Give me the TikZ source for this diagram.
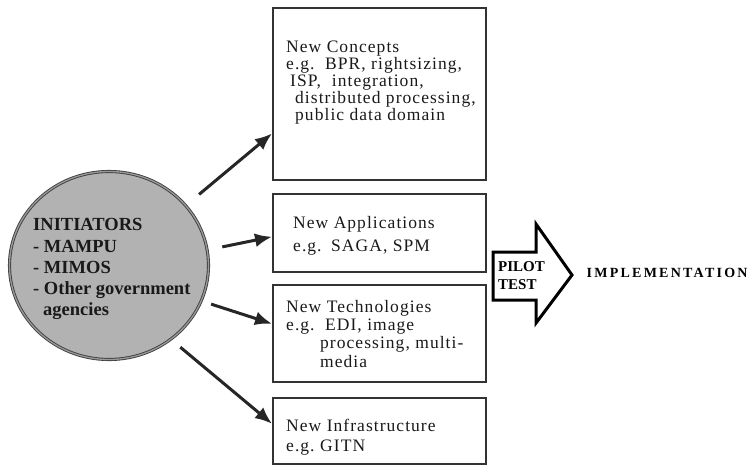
\documentclass[tikz,border=0pt]{standalone}
\usepackage{fontspec}
\setmainfont{Liberation Serif}
\newfontfamily\boxfont[LetterSpace=6]{Liberation Serif}
\newfontfamily\implfont[LetterSpace=16]{Liberation Serif}
\usetikzlibrary{shapes.geometric,arrows.meta,calc}
\begin{document}
\begin{tikzpicture}[x=1pt,y=-1pt,
 box/.style={draw=black!80,line width=1.5pt,inner sep=0,anchor=north west,minimum width=213pt},
 txt/.style={inner sep=0,anchor=base west,text=black!90,font=\boxfont\fontsize{17.5}{19}\selectfont},
 ctxt/.style={inner sep=0,anchor=base west,text=black!90,font=\bfseries\fontsize{18.5}{20}\selectfont},
 ptxt/.style={inner sep=0,anchor=base west,text=black,font=\bfseries\fontsize{15}{17}\selectfont},
 conn/.style={draw=black!85,line width=3pt,-{Latex[length=17pt,width=14pt]}},
]
\useasboundingbox (0,0) rectangle (754,466);

% initiators ellipse
\node[ellipse, draw=black!75, line width=0.9pt, double=black!40, double distance=1.3pt,
      fill=black!30, minimum width=199pt, minimum height=188pt, inner sep=0] (init) at (109,265.5) {};
\node[ctxt] (c1) at (33,230) {INITIATORS};
\node[ctxt] (c2) at (33,252) {- MAMPU};
\node[ctxt] (c3) at (33,273) {- MIMOS};
\node[ctxt] (c4) at (33,294) {- Other government};
\node[ctxt] (c5) at (43,315) {agencies};

% boxes
\node[box, minimum height=172pt] (b1) at (272,7) {};
\node[box, minimum height=78pt] (b2) at (272,193) {};
\node[box, minimum height=97pt] (b3) at (272,284) {};
\node[box, minimum height=66pt] (b4) at (272,397) {};

% box texts
\node[txt] (t11) at (286,52) {New Concepts};
\node[txt] (t12) at (286,69) {\makebox[39pt][l]{e.g.}BPR, rightsizing,};
\node[txt] (t13) at (290,86) {ISP,\ \ integration,};
\node[txt] (t14) at (295,103) {distributed processing,};
\node[txt] (t15) at (295,120) {public data domain};

\node[txt] (t21) at (293,228.5) {New Applications};
\node[txt] (t22) at (293,251) {\makebox[38pt][l]{e.g.}SAGA, SPM};

\node[txt] (t31) at (286,312) {New Technologies};
\node[txt] (t32) at (286,330) {\makebox[39pt][l]{e.g.}EDI, image};
\node[txt] (t33) at (320,348) {processing, multi-};
\node[txt] (t34) at (320,367) {media};

\node[txt] (t41) at (286,431) {New Infrastructure};
\node[txt] (t42) at (286,451) {\makebox[34pt][l]{e.g.}GITN};

% connectors
\draw[conn, shorten <=17pt] (init.38.7) -- ($(b1.south west)+(0,-47)$);
\draw[conn, shorten <=15pt] (init.9) -- ($(b2.west)+(0,4)$);
\draw[conn, shorten <=10pt] (init.-21.9) -- ($(b3.west)+(0,-9.5)$);
\draw[conn, shorten <=12pt] (init.-50) -- ($(b4.west)+(0,-7)$);

% pilot test arrow
\draw[line width=3pt, line join=miter, draw=black, fill=white]
  (493,252) -- (536,252) -- (536,224) -- (572,275) -- (536,323) -- (536,300) -- (493,300) -- cycle;
\node[ptxt] (p1) at (498,271.5) {PILOT};
\node[ptxt] (p2) at (498,289.5) {TEST};
\node[inner sep=0, anchor=base west, font=\implfont\bfseries\fontsize{14}{16}\selectfont] (impl) at (586.5,277) {IMPLEMENTATION};
\end{tikzpicture}
\end{document}
